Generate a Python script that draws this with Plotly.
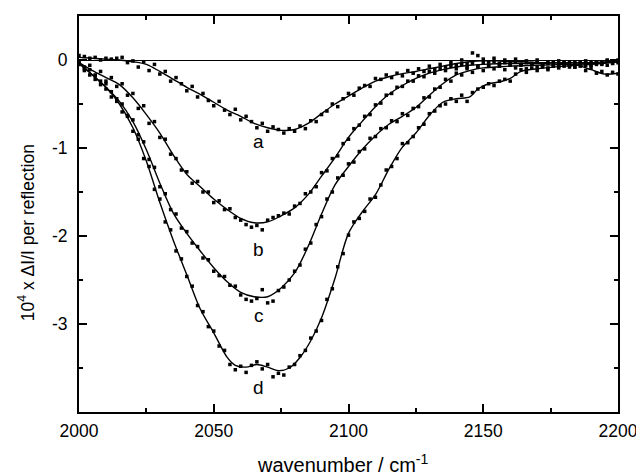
import plotly.graph_objects as go

# ---------------- data ----------------
label_names = ["a", "b", "c", "d"]
label_x = [2066.7, 2066.7, 2066.7, 2066.7]
label_y = [-0.93, -2.15, -2.90, -3.72]

x_ticks = [2000, 2050, 2100, 2150, 2200]
x_ticktext = ["2000", "2050", "2100", "2150", "2200"]
y_ticks = [0, -1, -2, -3]
y_ticktext = ["0", "-1", "-2", "-3"]

# fitted curves
fit_a_x = [2000, 2005, 2010, 2015, 2020, 2025, 2030, 2035, 2040, 2045, 2050, 2055, 2060, 2065,
           2070, 2075, 2080, 2085, 2090, 2095, 2100, 2105, 2110, 2115, 2120, 2125, 2130, 2135,
           2140, 2145, 2150, 2155, 2160, 2165, 2170, 2175, 2180, 2185, 2190, 2195, 2200]
fit_a_y = [0.03, 0.02, 0.01, 0.00, -0.02, -0.05, -0.13, -0.22, -0.31, -0.39, -0.48, -0.57, -0.64, -0.72,
           -0.77, -0.80, -0.79, -0.72, -0.61, -0.50, -0.41, -0.32, -0.24, -0.19, -0.155, -0.13, -0.10, -0.07,
           -0.04, -0.02, -0.01, -0.01, -0.02, -0.02, -0.03, -0.03, -0.04, -0.06, -0.11, -0.16, -0.15]

fit_b_x = [2000, 2005, 2010, 2015, 2020, 2025, 2030, 2035, 2040, 2045, 2050, 2055, 2060, 2065,
           2070, 2075, 2080, 2085, 2090, 2095, 2100, 2105, 2110, 2115, 2120, 2125, 2130, 2135,
           2140, 2145, 2150, 2160, 2170, 2180, 2190, 2200]
fit_b_y = [-0.03, -0.12, -0.20, -0.28, -0.43, -0.62, -0.83, -1.08, -1.30, -1.44, -1.58, -1.70, -1.80, -1.85,
           -1.84, -1.77, -1.68, -1.53, -1.32, -1.11, -0.88, -0.70, -0.53, -0.39, -0.29, -0.21, -0.15, -0.11,
           -0.08, -0.06, -0.05, -0.04, -0.04, -0.03, -0.03, -0.01]

fit_c_x = [2000, 2005, 2010, 2015, 2020, 2025, 2030, 2035, 2040, 2045, 2050, 2055, 2060, 2065,
           2070, 2075, 2080, 2085, 2090, 2095, 2100, 2105, 2110, 2115, 2120, 2125, 2130, 2135,
           2140, 2145, 2150, 2155, 2160, 2170, 2180, 2190, 2200]
fit_c_y = [-0.03, -0.17, -0.31, -0.47, -0.70, -1.02, -1.40, -1.74, -1.97, -2.17, -2.36, -2.52, -2.64, -2.69,
           -2.69, -2.59, -2.42, -2.12, -1.75, -1.42, -1.21, -1.02, -0.86, -0.73, -0.64, -0.54, -0.40, -0.27,
           -0.17, -0.12, -0.09, -0.08, -0.07, -0.06, -0.05, -0.04, -0.02]

fit_d_x = [2000, 2005, 2010, 2015, 2020, 2025, 2030, 2035, 2040, 2045, 2050, 2055, 2058, 2062,
           2066, 2070, 2074, 2078, 2082, 2086, 2090, 2095, 2100, 2105, 2110, 2115, 2120, 2125,
           2130, 2135, 2140, 2145, 2148, 2152, 2156, 2160, 2164, 2170, 2180, 2190, 2200]
fit_d_y = [-0.04, -0.17, -0.31, -0.50, -0.77, -1.15, -1.62, -2.05, -2.44, -2.83, -3.10, -3.38, -3.47, -3.49,
           -3.46, -3.49, -3.53, -3.50, -3.38, -3.19, -2.93, -2.48, -1.97, -1.73, -1.53, -1.24, -0.99, -0.83,
           -0.63, -0.48, -0.44, -0.42, -0.33, -0.27, -0.25, -0.21, -0.13, -0.10, -0.07, -0.05, -0.02]

# measured points (every 2 cm-1)
pts_x = list(range(2000, 2201, 2))
pts_a = [0.05, 0.04, 0.02, 0.03, 0.00, 0.02, 0.01, 0.02, 0.03, -0.03,
         -0.01, -0.08, -0.02, -0.12, -0.05, -0.16, -0.13, -0.24, -0.20, -0.27,
         -0.35, -0.30, -0.42, -0.38, -0.46, -0.52, -0.47, -0.57, -0.62, -0.56,
         -0.68, -0.64, -0.70, -0.77, -0.72, -0.81, -0.76, -0.79, -0.83, -0.78,
         -0.81, -0.75, -0.78, -0.69, -0.70, -0.62, -0.58, -0.50, -0.53, -0.44,
         -0.38, -0.40, -0.32, -0.29, -0.30, -0.21, -0.22, -0.17, -0.20, -0.15,
         -0.18, -0.12, -0.15, -0.10, -0.13, -0.07, -0.11, -0.05, -0.08, -0.03,
         -0.06, 0.00, -0.04, 0.08, 0.05, 0.01, -0.02, 0.02, -0.04, 0.00,
         -0.03, 0.01, -0.05, -0.01, -0.04, 0.00, -0.05, -0.02, -0.06, -0.01,
         -0.07, -0.03, -0.08, -0.04, -0.12, -0.09, -0.15, -0.13, -0.17, -0.14,
         -0.16]
pts_b = [-0.02, -0.10, -0.06, -0.17, -0.13, -0.24, -0.20, -0.30, -0.27, -0.40,
         -0.38, -0.55, -0.52, -0.72, -0.70, -0.88, -0.90, -1.07, -1.12, -1.25,
         -1.27, -1.40, -1.38, -1.50, -1.50, -1.62, -1.60, -1.70, -1.69, -1.79,
         -1.82, -1.87, -1.90, -1.88, -1.93, -1.82, -1.79, -1.77, -1.74, -1.75,
         -1.66, -1.63, -1.52, -1.50, -1.44, -1.28, -1.26, -1.12, -1.09, -0.95,
         -0.90, -0.78, -0.74, -0.64, -0.62, -0.51, -0.49, -0.40, -0.38, -0.31,
         -0.30, -0.24, -0.24, -0.18, -0.19, -0.13, -0.15, -0.10, -0.12, -0.07,
         -0.10, -0.05, -0.08, -0.04, -0.07, -0.03, -0.06, -0.02, -0.07, -0.03,
         -0.05, -0.02, -0.06, -0.03, -0.05, -0.02, -0.06, -0.04, -0.02, -0.05,
         -0.03, -0.06, -0.02, -0.04, -0.01, -0.05, -0.02, -0.04, 0.00, -0.03,
         -0.01]
pts_c = [-0.05, -0.12, -0.11, -0.22, -0.24, -0.33, -0.36, -0.47, -0.50, -0.64,
         -0.68, -0.85, -0.93, -1.13, -1.22, -1.44, -1.52, -1.70, -1.75, -1.91,
         -1.95, -2.08, -2.12, -2.25, -2.27, -2.40, -2.45, -2.46, -2.56, -2.57,
         -2.67, -2.72, -2.74, -2.71, -2.61, -2.76, -2.74, -2.62, -2.58, -2.50,
         -2.40, -2.33, -2.15, -2.08, -1.87, -1.78, -1.58, -1.50, -1.34, -1.31,
         -1.18, -1.16, -1.04, -1.01, -0.89, -0.87, -0.78, -0.77, -0.69, -0.70,
         -0.61, -0.63, -0.55, -0.53, -0.43, -0.42, -0.33, -0.31, -0.22, -0.24,
         -0.15, -0.17, -0.10, -0.14, -0.08, -0.12, -0.06, -0.10, -0.05, -0.11,
         -0.06, -0.09, -0.05, -0.10, -0.04, -0.08, -0.05, -0.09, -0.04, -0.07,
         -0.03, -0.06, -0.08, -0.03, -0.06, -0.02, -0.05, -0.03, -0.06, -0.01,
         -0.03]
pts_d = [-0.02, -0.08, -0.17, -0.18, -0.28, -0.27, -0.42, -0.44, -0.59, -0.63,
         -0.81, -0.90, -1.12, -1.21, -1.47, -1.58, -1.84, -1.93, -2.17, -2.26,
         -2.46, -2.57, -2.79, -2.86, -3.03, -3.08, -3.25, -3.30, -3.46, -3.52,
         -3.48, -3.55, -3.47, -3.43, -3.51, -3.46, -3.60, -3.56, -3.58, -3.49,
         -3.46, -3.36, -3.30, -3.16, -3.08, -2.96, -2.72, -2.60, -2.35, -2.20,
         -1.99, -1.84, -1.80, -1.72, -1.58, -1.56, -1.42, -1.25, -1.21, -1.12,
         -0.95, -0.94, -0.87, -0.77, -0.73, -0.61, -0.58, -0.52, -0.50, -0.44,
         -0.47, -0.40, -0.47, -0.37, -0.33, -0.31, -0.27, -0.29, -0.24, -0.22,
         -0.24, -0.16, -0.11, -0.14, -0.09, -0.12, -0.08, -0.11, -0.07, -0.09,
         -0.05, -0.08, -0.04, -0.07, -0.03, -0.06, -0.02, -0.05, -0.01, -0.04,
         0.00]

# ---------------- figure ----------------
FONT = "Liberation Sans, Arial, sans-serif"
fig = go.Figure()

for ys in [pts_a, pts_b, pts_c, pts_d]:
    fig.add_trace(go.Scatter(x=pts_x, y=ys, mode="markers",
                             marker=dict(symbol="square", size=3.5, color="black",
                                         line=dict(width=0)),
                             showlegend=False, hoverinfo="skip"))

for fx, fy in [(fit_a_x, fit_a_y), (fit_b_x, fit_b_y), (fit_c_x, fit_c_y), (fit_d_x, fit_d_y)]:
    fig.add_trace(go.Scatter(x=fx, y=fy, mode="lines",
                             line=dict(color="black", width=1.4, shape="spline", smoothing=0.9),
                             showlegend=False, hoverinfo="skip"))

for name, lx, ly in zip(label_names, label_x, label_y):
    fig.add_annotation(x=lx, y=ly, text=name, showarrow=False,
                       font=dict(family=FONT, size=19, color="black"))

fig.add_annotation(xref="paper", yref="paper", x=0.489, y=-0.131,
                   text="wavenumber / cm<sup>-1</sup>", showarrow=False,
                   xanchor="center", yanchor="middle",
                   font=dict(family=FONT, size=20, color="black"))
fig.add_annotation(xref="paper", yref="paper", x=-0.098, y=0.452,
                   text="10<sup>4</sup> x ΔI/I per reflection", showarrow=False,
                   textangle=-90, xanchor="center", yanchor="middle",
                   font=dict(family=FONT, size=17.5, color="black"))

axis_common = dict(showline=True, linecolor="black", linewidth=2, mirror="ticks",
                   ticks="inside", ticklen=8, tickwidth=1.5, tickcolor="black",
                   showgrid=False, tickfont=dict(family=FONT, size=17.5, color="black"))

fig.update_xaxes(range=[2000, 2200], tickmode="array", tickvals=x_ticks, ticktext=x_ticktext,
                 zeroline=False, ticklabelstandoff=2,
                 minor=dict(ticks="inside", ticklen=4, dtick=25, tick0=2000, tickcolor="black",
                            tickwidth=1.5, showgrid=False),
                 **axis_common)
fig.update_yaxes(range=[-4, 0.5], tickmode="array", tickvals=y_ticks, ticktext=y_ticktext,
                 zeroline=True, zerolinecolor="black", zerolinewidth=1.3, ticklabelstandoff=6,
                 minor=dict(ticks="inside", ticklen=4, dtick=0.5, tick0=0, tickcolor="black",
                            tickwidth=1.5, showgrid=False),
                 **axis_common)

# page body has an 8px default margin, so the figure is sized/offset to compensate
fig.update_layout(width=636, height=468, margin=dict(l=71, r=22, t=6, b=64),
                  plot_bgcolor="white", paper_bgcolor="white",
                  font=dict(family=FONT, color="black"))

fig.write_html("out.html")
